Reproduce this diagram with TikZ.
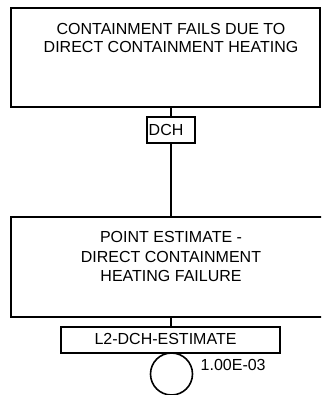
\documentclass[tikz,border=0pt]{standalone}
\usepackage{fontspec}
\setmainfont{Liberation Sans}
\begin{document}
\begin{tikzpicture}[x=1pt,y=-1pt,
  box/.style={draw,line width=1.8pt,inner sep=0pt,outer sep=0pt},
  txt/.style={font=\fontsize{16}{18}\selectfont,align=center,inner sep=0pt},
  txtb/.style={font=\fontsize{16}{19.5}\selectfont,align=center,inner sep=0pt},
  conn/.style={line width=1.6pt}]
\useasboundingbox (0,0) rectangle (321,395);
\clip (0,0) rectangle (321,395);
% top gate
\node[box,minimum width=309pt,minimum height=99pt] (g1) at (165.5,57.5) {};
\node[txt,anchor=base] (g1t) at (171,52.3) {CONTAINMENT FAILS DUE TO\\DIRECT CONTAINMENT HEATING};
% DCH label
\node[box,minimum width=48pt,minimum height=26pt] (dch) at (171,130) {};
\node[txt,anchor=base west] (dcht) at (148.5,135.5) {DCH};
% bottom gate
\node[box,minimum width=320pt,minimum height=100pt] (g2) at (171,267) {};
\node[txtb,anchor=base] (g2t) at (171,281.7) {POINT ESTIMATE -\\DIRECT CONTAINMENT\\HEATING FAILURE};
% event label
\node[box,minimum width=219pt,minimum height=26pt] (lb) at (170.5,340) {};
\node[txt,anchor=base] (lbt) at (165.5,344.3) {L2-DCH-ESTIMATE};
% basic event
\node[draw,circle,line width=1.6pt,minimum size=42pt,inner sep=0pt,outer sep=0pt] (be) at (171.5,374) {};
\node[txt,anchor=base west] (val) at (200.5,370) {1.00E-03};
% connectors
\draw[conn] (dch.north) -- (dch.north |- g1.south);
\draw[conn] (dch.south) -- (g2.north);
\draw[conn] (g2.south) -- (g2.south |- lb.north);
\end{tikzpicture}
\end{document}
